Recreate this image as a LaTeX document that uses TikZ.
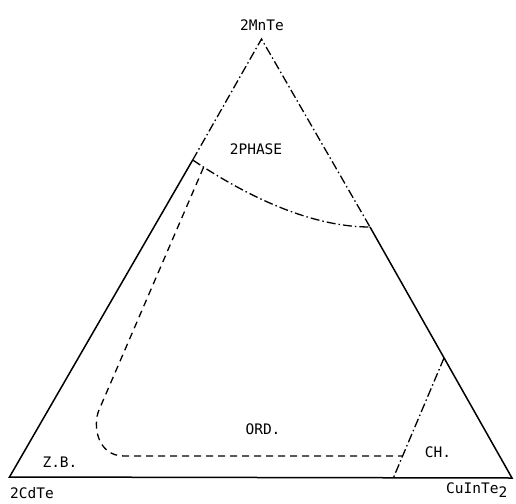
\documentclass[tikz,border=0pt]{standalone}
\usepackage{fontspec}
\setmainfont{DejaVu Sans Mono}
\begin{document}
\begin{tikzpicture}[x=1pt,y=-1pt,
  edge/.style={line width=1.5pt,line join=miter},
  dashdot/.style={line width=1.3pt,dash pattern=on 9pt off 3pt on 1.5pt off 3pt},
  dashline/.style={line width=1.3pt,dash pattern=on 7pt off 5pt},
  lbl/.style={font=\fontsize{14.5}{15}\selectfont,inner sep=0pt}]
\useasboundingbox (0,0) rectangle (516,503);
% vertices and edge points
\coordinate (A) at (261.5,39);
\coordinate (B) at (9.5,477);
\coordinate (C) at (512,478);
\coordinate (L) at (192.7,160);
\coordinate (R) at (370,227);
\coordinate (R2) at (444,358);
\coordinate (Bt) at (393.3,478);
\coordinate (D1) at (203.5,167.5);
\coordinate (D2) at (402.5,456);
% triangle
\draw[edge] (L) -- (B) -- (C) -- (R);
\draw[dashdot] (L) -- (A) -- (R);
% 2-phase boundary
\draw[dashdot] (L) .. controls (260,205) and (320,227) .. (R);
% chalcopyrite boundary
\draw[dashdot] (R2) -- (Bt);
% order-disorder boundary
\draw[dashline] (D1) -- (99,410) .. controls (92.5,425) and (97,456) .. (124,456) -- (D2);
% labels
\node[lbl] (mn) at (262,25) {2MnTe};
\node[lbl] (ph) at (256,149) {2PHASE};
\node[lbl] (zb) at (60,462) {Z.B.};
\node[lbl] (cd) at (32,493) {2CdTe};
\node[lbl] (ch) at (438,452) {CH.};
\node[lbl] (ord) at (263,429) {ORD.};
\node[lbl,anchor=west] (cu) at (446,490) {CuInTe\raisebox{-4pt}{2}};
\end{tikzpicture}
\end{document}
